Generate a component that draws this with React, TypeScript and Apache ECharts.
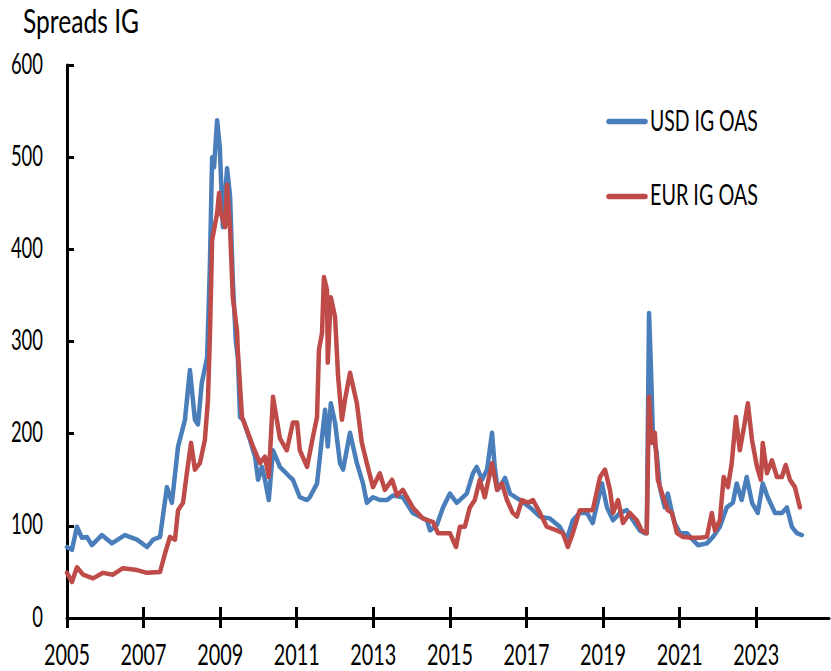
import React, { useEffect, useRef } from "react";
import * as echarts from "echarts";

const title = "Spreads IG";
const seriesNames = ["USD IG OAS", "EUR IG OAS"];
const yearTicks = [2005, 2007, 2009, 2011, 2013, 2015, 2017, 2019, 2021, 2023];
const yTicks = [0, 100, 200, 300, 400, 500, 600];

const usdDates = [
  2005.0, 2005.13, 2005.26, 2005.39, 2005.52, 2005.65, 2005.91, 2006.17, 2006.51, 2006.83,
  2007.09, 2007.25, 2007.43, 2007.61, 2007.74, 2007.9, 2008.08, 2008.21, 2008.34, 2008.42,
  2008.52, 2008.66, 2008.73, 2008.79, 2008.84, 2008.92, 2008.99, 2009.07, 2009.18, 2009.26,
  2009.33, 2009.41, 2009.46, 2009.52, 2009.6, 2009.78, 2009.91, 2009.99, 2010.09, 2010.17,
  2010.27, 2010.38, 2010.56, 2010.82, 2010.9, 2011.08, 2011.27, 2011.34, 2011.48, 2011.53,
  2011.66, 2011.74, 2011.81, 2011.89, 2012.0, 2012.13, 2012.21, 2012.39, 2012.57, 2012.73,
  2012.83, 2012.99, 2013.17, 2013.36, 2013.51, 2013.77, 2014.03, 2014.4, 2014.48, 2014.66,
  2014.82, 2015.0, 2015.18, 2015.44, 2015.6, 2015.7, 2015.84, 2015.97, 2016.1, 2016.17,
  2016.25, 2016.44, 2016.57, 2016.83, 2017.09, 2017.35, 2017.61, 2017.87, 2018.05, 2018.21,
  2018.39, 2018.58, 2018.73, 2018.97, 2019.1, 2019.26, 2019.44, 2019.62, 2019.78, 2019.96,
  2020.09, 2020.14, 2020.2, 2020.25, 2020.3, 2020.4, 2020.48, 2020.61, 2020.69, 2020.8,
  2020.87, 2021.01, 2021.19, 2021.34, 2021.48, 2021.71, 2021.87, 2022.05, 2022.23, 2022.39,
  2022.49, 2022.62, 2022.75, 2022.89, 2023.04, 2023.17, 2023.3, 2023.49, 2023.67, 2023.8,
  2023.93, 2024.06, 2024.19,
];
const usdValues = [
  77, 74, 99, 87, 88, 79, 90, 81, 90, 85,
  77, 85, 88, 142, 125, 186, 215, 269, 215, 210,
  255, 283, 380, 500, 489, 540, 511, 424, 488, 457,
  367, 300, 283, 218, 215, 193, 175, 150, 164, 150,
  128, 182, 164, 153, 150, 131, 128, 131, 142, 146,
  196, 226, 186, 233, 212, 168, 161, 201, 168, 146,
  125, 131, 128, 128, 133, 131, 114, 106, 95, 101,
  120, 135, 125, 135, 157, 164, 150, 161, 201, 164,
  139, 152, 135, 128, 120, 110, 108, 99, 85, 106,
  114, 114, 103, 146, 120, 106, 114, 117, 106, 95,
  92, 92, 331, 272, 201, 179, 142, 120, 135, 114,
  103, 92, 92, 85, 79, 81, 88, 99, 120, 125,
  146, 128, 153, 125, 114, 146, 131, 114, 114, 120,
  99, 92, 90,
];

const eurDates = [
  2005.0, 2005.13, 2005.26, 2005.42, 2005.68, 2005.94, 2006.2, 2006.46, 2006.83, 2007.09,
  2007.43, 2007.56, 2007.69, 2007.82, 2007.9, 2008.03, 2008.13, 2008.24, 2008.34, 2008.47,
  2008.6, 2008.68, 2008.73, 2008.79, 2008.92, 2008.97, 2009.02, 2009.13, 2009.18, 2009.26,
  2009.33, 2009.44, 2009.46, 2009.57, 2009.86, 2010.04, 2010.17, 2010.27, 2010.38, 2010.56,
  2010.74, 2010.9, 2011.01, 2011.08, 2011.27, 2011.42, 2011.53, 2011.58, 2011.66, 2011.71,
  2011.79, 2011.81, 2011.89, 2012.0, 2012.08, 2012.18, 2012.26, 2012.39, 2012.57, 2012.7,
  2012.83, 2012.99, 2013.17, 2013.3, 2013.49, 2013.62, 2013.77, 2014.03, 2014.29, 2014.56,
  2014.69, 2015.0, 2015.16, 2015.26, 2015.39, 2015.52, 2015.65, 2015.78, 2015.91, 2016.1,
  2016.23, 2016.36, 2016.49, 2016.64, 2016.75, 2016.88, 2017.04, 2017.17, 2017.35, 2017.53,
  2017.79, 2017.95, 2018.08, 2018.21, 2018.39, 2018.73, 2018.92, 2019.05, 2019.18, 2019.26,
  2019.39, 2019.52, 2019.7, 2019.88, 2020.01, 2020.14, 2020.2, 2020.27, 2020.35, 2020.43,
  2020.54, 2020.69, 2020.8, 2020.93, 2021.08, 2021.32, 2021.53, 2021.71, 2021.84, 2021.92,
  2022.05, 2022.15, 2022.26, 2022.36, 2022.47, 2022.57, 2022.68, 2022.78, 2022.89, 2023.02,
  2023.12, 2023.17, 2023.28, 2023.41, 2023.54, 2023.67, 2023.77, 2023.88, 2024.01, 2024.14,
];
const eurValues = [
  49, 39, 55, 47, 43, 49, 47, 54, 52, 49,
  50, 70, 88, 85, 117, 125, 157, 190, 161, 168,
  193, 236, 302, 410, 439, 461, 439, 424, 470, 421,
  348, 312, 291, 218, 186, 168, 175, 153, 240, 195,
  182, 212, 212, 182, 164, 196, 218, 291, 309, 370,
  356, 277, 348, 327, 262, 215, 237, 266, 233, 190,
  168, 142, 157, 139, 150, 133, 139, 120, 108, 104,
  92, 92, 77, 99, 99, 120, 128, 150, 131, 168,
  139, 146, 128, 114, 110, 128, 125, 128, 114, 99,
  95, 92, 77, 92, 117, 117, 153, 161, 139, 114,
  128, 103, 114, 106, 95, 92, 240, 190, 201, 150,
  135, 117, 114, 92, 88, 87, 87, 88, 114, 95,
  106, 153, 142, 168, 218, 182, 207, 233, 193, 164,
  150, 190, 157, 171, 153, 153, 166, 150, 142, 120,
];

const FONT = "Lato";
const BLUE = "#4a7ebb";
const RED = "#be4b48";

function measure(text: string, size: number): number {
  const ctx = document.createElement("canvas").getContext("2d");
  if (!ctx) return text.length * size * 0.55;
  ctx.font = `${size}px ${FONT}`;
  return ctx.measureText(text).width || text.length * size * 0.55;
}

function squeezedText(
  text: string,
  x: number,
  y: number,
  size: number,
  targetWidth: number,
  align: string
) {
  const sx = targetWidth / measure(text, size);
  return {
    type: "text",
    x,
    y,
    scaleX: sx,
    scaleY: 1,
    silent: true,
    style: {
      text,
      fontFamily: FONT,
      fontSize: size,
      fill: "#000",
      align,
      verticalAlign: "middle",
    },
  };
}

export default function App() {
  const ref = useRef<HTMLDivElement>(null);
  useEffect(() => {
    if (!ref.current) return;
    const chart = echarts.init(ref.current, undefined, { renderer: "svg" });
    const xMin = 2005;
    const xMax = 2024.9;
    chart.setOption({
      animation: false,
      backgroundColor: "#ffffff",
      grid: { left: 67, right: 2, top: 65, bottom: 53, containLabel: false },
      xAxis: [
        {
          type: "value",
          min: xMin,
          max: xMax,
          position: "bottom",
          axisLine: { show: true, onZero: false, lineStyle: { color: "#000", width: 3 } },
          axisTick: {
            show: true,
            inside: false,
            length: 10,
            customValues: yearTicks,
            lineStyle: { color: "#000", width: 3 },
          },
          axisLabel: { show: false },
          splitLine: { show: false },
        },
        {
          type: "value",
          min: xMin,
          max: xMax,
          position: "bottom",
          axisLine: { show: false },
          axisTick: {
            show: true,
            inside: true,
            length: 11,
            customValues: yearTicks,
            lineStyle: { color: "#000", width: 3 },
          },
          axisLabel: { show: false },
          splitLine: { show: false },
        },
      ],
      yAxis: {
        type: "value",
        min: 0,
        max: 600,
        interval: 100,
        axisLine: { show: true, onZero: false, lineStyle: { color: "#000", width: 3 } },
        axisTick: { show: true, inside: true, length: 7, lineStyle: { color: "#000", width: 3 } },
        axisLabel: { show: false },
        splitLine: { show: false },
      },
      series: [
        {
          name: seriesNames[0],
          type: "line",
          xAxisIndex: 0,
          showSymbol: false,
          symbol: "none",
          color: BLUE,
          lineStyle: { color: BLUE, width: 4.5, cap: "round", join: "round" },
          data: usdDates.map((d, i) => [d, usdValues[i]]),
        },
        {
          name: seriesNames[1],
          type: "line",
          xAxisIndex: 0,
          showSymbol: false,
          symbol: "none",
          color: RED,
          lineStyle: { color: RED, width: 4.5, cap: "round", join: "round" },
          data: eurDates.map((d, i) => [d, eurValues[i]]),
        },
      ],
    });

    const elements: any[] = [];
    elements.push(squeezedText(title, 23, 20, 33, 116, "left"));
    yearTicks.forEach((yr) => {
      const px = chart.convertToPixel({ xAxisIndex: 0 }, yr) as number;
      elements.push(squeezedText(String(yr), px, 654, 28, 46, "center"));
    });
    yTicks.forEach((v) => {
      const py = chart.convertToPixel({ yAxisIndex: 0 }, v) as number;
      const w = String(v).length * 10.7;
      elements.push(squeezedText(String(v), 43, py - 2, 28, w, "right"));
    });
    const legendColors = [BLUE, RED];
    const legendY = [121.5, 196.5];
    seriesNames.forEach((name, i) => {
      elements.push({
        type: "line",
        silent: true,
        shape: { x1: 609, y1: legendY[i], x2: 645, y2: legendY[i] },
        style: { stroke: legendColors[i], lineWidth: 5.5, lineCap: "round" },
      });
      elements.push(squeezedText(name, 650, legendY[i] - 2, 28, 108, "left"));
    });
    chart.setOption({ graphic: { elements } });

    return () => chart.dispose();
  }, []);
  return (
    <div
      ref={ref}
      style={{ position: "fixed", left: 0, top: 0, width: 831, height: 671, background: "#fff" }}
    />
  );
}
